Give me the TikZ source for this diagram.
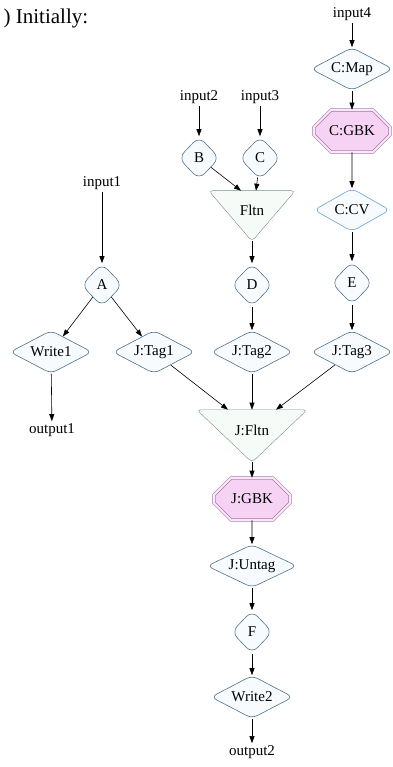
\documentclass[tikz,border=0pt]{standalone}
\usepackage{fontspec}
\setmainfont{Liberation Serif}
\usetikzlibrary{arrows.meta, shapes.geometric, shapes.misc, backgrounds}

\definecolor{opline}{HTML}{50728F}
\definecolor{opfill}{HTML}{F7FBFE}
\definecolor{cvline}{HTML}{6AA2DA}
\definecolor{triline}{HTML}{6E9484}
\definecolor{trifill}{HTML}{F7FBF8}
\definecolor{gbkline}{HTML}{A874A8}
\definecolor{gbkfill}{HTML}{F6D2F4}

\begin{document}
\begin{tikzpicture}[->,>={Triangle[length=7pt,width=5pt]},semithick,x=1pt,y=-1pt,
		font=\fontsize{15}{17}\selectfont,
		op/.style={diamond, aspect=2, draw=opline, fill=opfill, rounded corners=6pt,
			inner sep=0pt, minimum width=82pt, minimum height=43pt},
		pc/.style={diamond, aspect=1, draw=opline, fill=opfill, rounded corners=8pt,
			inner sep=0pt, minimum width=41pt, minimum height=43pt},
		gbk/.style={chamfered rectangle, chamfered rectangle xsep=16pt, chamfered rectangle ysep=12pt,
			draw=gbkline, fill=gbkfill, double=gbkfill!50, double distance=2pt,
			inner sep=0pt, minimum width=76pt, minimum height=42pt},
		tri/.style={rectangle, inner sep=0pt, text depth=12pt},
		io/.style={inner sep=2pt}]
	\useasboundingbox (0,0) rectangle (392,767);

	\node[anchor=west, font=\fontsize{21}{24}\selectfont] (title) at (0,18) {) Initially:};

	% left branch
	\node[io] (in1)    at (102,183) {input1};
	\node[pc] (a)      at (102,285) {A};
	\node[op] (write1) at (51,352)  {Write1};
	\node[op] (jtag1)  at (154,352) {J:Tag1};
	\node[io] (out1)   at (52,430)  {output1};

	% middle branch
	\node[io] (in2)  at (199,97)  {input2};
	\node[io] (in3)  at (260,97)  {input3};
	\node[pc] (b)    at (199,158) {B};
	\node[pc] (c)    at (260,158) {C};
	\node[tri, minimum width=86pt, minimum height=50pt] (fltn) at (252,216) {Fltn};
	\node[pc] (d)     at (252,285) {D};
	\node[op] (jtag2) at (252,352) {J:Tag2};

	% right branch
	\node[io]  (in4)   at (352,14)  {input4};
	\node[op]  (cmap)  at (352,69)  {C:Map};
	\node[gbk] (cgbk)  at (352,131) {C:GBK};
	\node[op, draw=cvline, minimum width=76pt] (ccv) at (352,210) {C:CV};
	\node[pc]  (e)     at (352,283) {E};
	\node[op]  (jtag3) at (352,352) {J:Tag3};

	% join
	\node[tri, minimum width=110pt, minimum height=52pt] (jfltn) at (252,436) {J:Fltn};
	\node[gbk] (jgbk)   at (252,499) {J:GBK};
	\node[op, minimum width=90pt] (juntag) at (252,566) {J:Untag};
	\node[pc]  (f)      at (252,632) {F};
	\node[op]  (write2) at (252,697) {Write2};
	\node[io]  (out2)   at (252,752) {output2};

	\begin{scope}[on background layer]
		\foreach \t in {fltn,jfltn}
			\draw[-, draw=triline, fill=trifill, rounded corners=4pt]
				(\t.north west) -- (\t.north east) -- (\t.south) -- cycle;
	\end{scope}

	\draw (in1) edge (a);
	\draw (a) edge (write1);
	\draw (a) edge (jtag1);
	\draw (write1) edge (out1);

	\draw (in2) edge (b);
	\draw (in3) edge (c);
	\draw (b) edge ([xshift=-11pt]fltn.north);
	\draw (c) edge ([xshift=4pt]fltn.north);
	\draw (fltn) edge (d);
	\draw (d) edge (jtag2);

	\draw (in4) edge (cmap);
	\draw (cmap) edge (cgbk);
	\draw (cgbk) edge (ccv);
	\draw (ccv) edge (e);
	\draw (e) edge (jtag3);

	\draw (jtag1) edge ([xshift=-24pt]jfltn.north);
	\draw (jtag2) edge (jfltn);
	\draw (jtag3) edge ([xshift=24pt]jfltn.north);
	\draw (jfltn) edge (jgbk);
	\draw (jgbk) edge (juntag);
	\draw (juntag) edge (f);
	\draw (f) edge (write2);
	\draw (write2) edge (out2);
\end{tikzpicture}
\end{document}
